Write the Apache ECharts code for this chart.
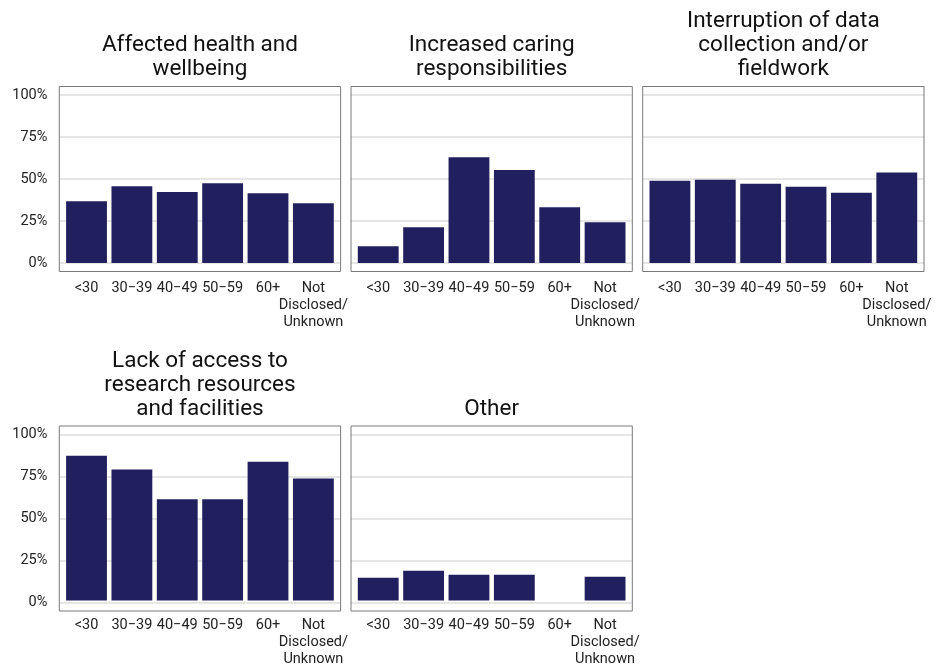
<!DOCTYPE html>
<html>
<head>
<meta charset="utf-8">
<script src="https://cdn.jsdelivr.net/npm/echarts@6/dist/echarts.min.js"></script>
<style>
html,body{margin:0;padding:0;background:#fff;}
#chart{width:941px;height:668px;}
</style>
</head>
<body>
<div id="chart"></div>
<script>
// ---- data ----
const categories = ['<30', '30\u221239', '40\u221249', '50\u221259', '60+', 'Not\nDisclosed/\nUnknown'];
const panelTitles = [
  'Affected health and\nwellbeing',
  'Increased caring\nresponsibilities',
  'Interruption of data\ncollection and/or\nfieldwork',
  'Lack of access to\nresearch resources\nand facilities',
  'Other'
];
const healthWellbeing = [36.8, 45.7, 42.2, 47.5, 41.6, 35.6];
const caringResponsibilities = [10.0, 21.3, 63.0, 55.3, 33.2, 24.3];
const dataCollection = [49.0, 49.6, 47.2, 45.4, 41.8, 53.8];
const researchAccess = [87.1, 78.8, 61.0, 61.0, 83.5, 73.4];
const otherReasons = [13.7, 17.9, 15.5, 15.5, 0, 14.3];
const yTickLabels = ['0%', '25%', '50%', '75%', '100%'];

const panelValues = [healthWellbeing, caringResponsibilities, dataCollection, researchAccess, otherReasons];

// ---- layout ----
const panelLefts = [59.3, 351, 642.7];
const panelWidth = 281.3;
const panelTops = [86.5, 426];
const panelHeight = 185;
const unit = panelWidth / 6.2;
const dataTopOff = panelHeight * 5 / 110;
const dataHeight = panelHeight * 100 / 110;
const barColor = '#221f5e';
const fontFamily = 'Roboto, "Noto Sans", sans-serif';

const grids = [], xAxes = [], yAxes = [], series = [], graphics = [];

panelValues.forEach(function (vals, i) {
  const col = i % 3, row = Math.floor(i / 3);
  const pl = panelLefts[col], pt = panelTops[row];
  // frame grid (full panel width) for gridlines and y labels
  grids.push({ left: pl, top: pt + dataTopOff, width: panelWidth, height: dataHeight });
  xAxes.push({ gridIndex: 2 * i, type: 'value', min: 0, max: 1, show: false });
  yAxes.push({
    gridIndex: 2 * i, type: 'value', min: 0, max: 100, interval: 25,
    axisLine: { show: false }, axisTick: { show: false },
    splitLine: { show: true, lineStyle: { color: '#dedede', width: 1.5 } },
    axisLabel: {
      show: col === 0, margin: 12, color: '#222', fontSize: 14.5, fontFamily: fontFamily,
      formatter: function (v) { return yTickLabels[Math.round(v / 25)]; }
    }
  });
  // data grid (category bands)
  grids.push({ left: pl + 0.1 * unit, top: pt + dataTopOff, width: 6 * unit, height: dataHeight });
  xAxes.push({
    gridIndex: 2 * i + 1, type: 'category', data: categories,
    axisLine: { show: false }, axisTick: { show: false },
    axisLabel: { interval: 0, margin: 16.5, color: '#222', fontSize: 14.5, lineHeight: 17, fontFamily: fontFamily }
  });
  yAxes.push({ gridIndex: 2 * i + 1, type: 'value', min: 0, max: 100, show: false, splitLine: { show: false } });
  series.push({
    type: 'bar', xAxisIndex: 2 * i + 1, yAxisIndex: 2 * i + 1,
    data: vals, barWidth: '90%', itemStyle: { color: barColor }, silent: true
  });
  // panel border
  graphics.push({
    type: 'rect', z: 100, silent: true,
    shape: { x: pl, y: pt, width: panelWidth, height: panelHeight },
    style: { fill: 'none', stroke: '#7a7a7a', lineWidth: 1 }
  });
  // panel title
  graphics.push({
    type: 'text', z: 100, silent: true,
    x: pl + panelWidth / 2, y: pt - 5,
    style: {
      text: panelTitles[i], fill: '#111', font: '22.5px ' + fontFamily,
      align: 'center', verticalAlign: 'bottom', lineHeight: 24
    }
  });
});

const chart = echarts.init(document.getElementById('chart'), null, { renderer: 'canvas' });
chart.setOption({
  animation: false,
  backgroundColor: '#ffffff',
  grid: grids,
  xAxis: xAxes,
  yAxis: yAxes,
  series: series,
  graphic: graphics
});
</script>
</body>
</html>
